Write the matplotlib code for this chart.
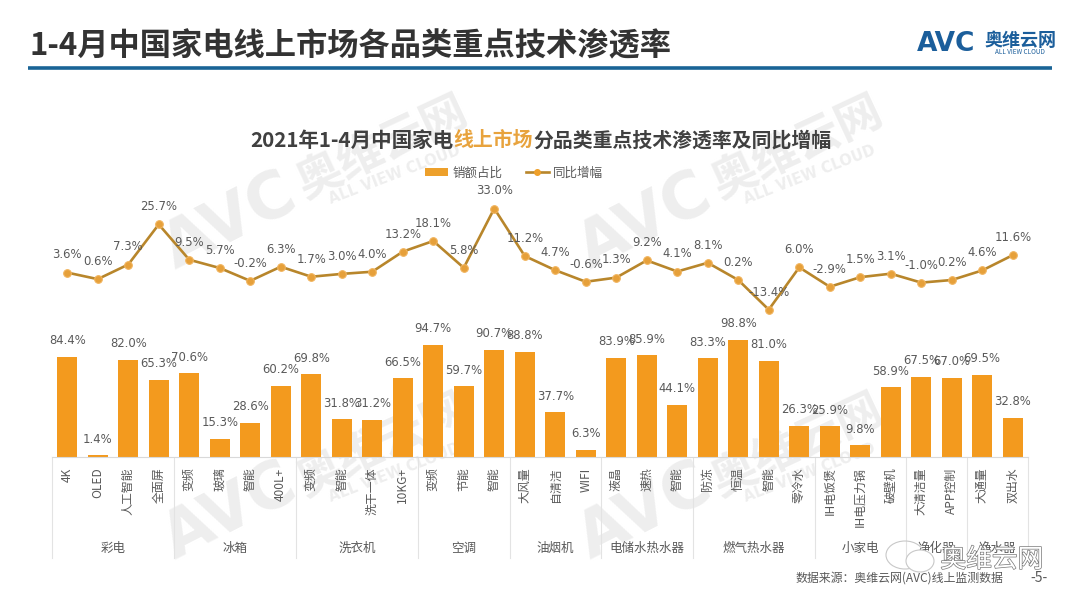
import matplotlib
matplotlib.use("Agg")
import matplotlib.pyplot as plt
import matplotlib.patheffects as pe
from matplotlib.lines import Line2D
from matplotlib.patches import Patch, Ellipse

plt.rcParams['font.family'] = ['Noto Sans CJK SC', 'DejaVu Sans']

groups = ['彩电', '冰箱', '洗衣机', '空调', '油烟机', '电储水热水器', '燃气热水器', '小家电', '净化器', '净水器']
group_sizes = [4, 4, 4, 3, 3, 3, 4, 3, 2, 2]
categories = ['4K', 'OLED', '人工智能', '全面屏', '变频', '玻璃', '智能', '400L+',
              '变频', '智能', '洗干一体', '10KG+', '变频', '节能', '智能',
              '大风量', '自清洁', 'WIFI', '液晶', '速热', '智能',
              '防冻', '恒温', '智能', '零冷水', 'IH电饭煲', 'IH电压力锅', '破壁机',
              '大清洁量', 'APP控制', '大通量', '双出水']
share = [84.4, 1.4, 82.0, 65.3, 70.6, 15.3, 28.6, 60.2, 69.8, 31.8, 31.2, 66.5,
         94.7, 59.7, 90.7, 88.8, 37.7, 6.3, 83.9, 85.9, 44.1, 83.3, 98.8, 81.0,
         26.3, 25.9, 9.8, 58.9, 67.5, 67.0, 69.5, 32.8]
growth = [3.6, 0.6, 7.3, 25.7, 9.5, 5.7, -0.2, 6.3, 1.7, 3.0, 4.0, 13.2, 18.1, 5.8,
          33.0, 11.2, 4.7, -0.6, 1.3, 9.2, 4.1, 8.1, 0.2, -13.4, 6.0, -2.9, 1.5, 3.1,
          -1.0, 0.2, 4.6, 11.6]

W, H = 1080, 608
ORANGE = '#F39A1E'
LINE = '#B8862B'
GREY = '#595959'
BLUE = '#1A6496'
MARK = '#EEEEEE'

fig = plt.figure(figsize=(W / 100, H / 100), dpi=100, facecolor='white')

def fx(p): return p / W
def fy(p): return 1 - p / H

bg = fig.add_axes([0, 0, 1, 1], zorder=0)
bg.set_xlim(0, W); bg.set_ylim(H, 0); bg.axis('off')

# watermarks: two columns, two rows
for dx in (0, 415):
    for (ya, yb, yc) in [(222, 147, 175), (512, 445, 473)]:
        bg.text(230 + dx, ya, 'AVC', fontsize=46, fontweight='bold', color=MARK, rotation=27,
                ha='center', va='center', family='DejaVu Sans')
        bg.text(383 + dx, yb, '奥维云网', fontsize=33, fontweight='bold', color=MARK, rotation=25,
                ha='center', va='center')
        bg.text(395 + dx, yc, 'ALL VIEW CLOUD', fontsize=10.5, fontweight='bold', color=MARK, rotation=21,
                ha='center', va='center', family='DejaVu Sans')

# header
bg.text(30, 46, '1-4月中国家电线上市场各品类重点技术渗透率', fontsize=22.5, fontweight='bold',
        color='#333333', ha='left', va='center')
bg.plot([28, 1052], [67.5, 67.5], color=BLUE, lw=2.6, solid_capstyle='butt')
bg.text(917, 44, 'AVC', fontsize=19, fontweight='bold', color='#1B5E9B', ha='left', va='center',
        family='DejaVu Sans')
bg.text(1020, 40, '奥维云网', fontsize=13, fontweight='bold', color='#1B5E9B', ha='center', va='center')
bg.text(1020, 52, 'ALL VIEW CLOUD', fontsize=4.6, color='#1B5E9B', ha='center', va='center')

# chart title with highlighted segment
y_t = 140
bg.text(250, y_t, '2021年1-4月中国家电', fontsize=14.8, fontweight='bold', color='#404040', ha='left', va='center')
bg.text(453, y_t, '线上市场', fontsize=14.3, fontweight='bold', color='#E8A33D', ha='left', va='center')
bg.text(533, y_t, '分品类重点技术渗透率及同比增幅', fontsize=14.3, fontweight='bold', color='#404040', ha='left', va='center')

# source / footer
bg.text(795, 578, '数据来源：奥维云网(AVC)线上监测数据', fontsize=8.6, color=GREY, ha='left', va='center')
bg.text(1030, 578, '-5-', fontsize=10, color=GREY, ha='left', va='center')

# bars
left, right = 52, 1028
base, top = 457, 457 - 130
ax = fig.add_axes([fx(left), fy(base), fx(right - left), (base - top) / H], zorder=1)
ax.patch.set_alpha(0)
x = list(range(len(categories)))
ax.bar(x, share, width=0.66, color=ORANGE, zorder=2)
ax.set_xlim(-0.5, len(categories) - 0.5)
ax.set_ylim(0, (base - top) / 1.184)
ax.set_yticks([])
for s in ['top', 'left', 'right']:
    ax.spines[s].set_visible(False)
ax.spines['bottom'].set_color('#D9D9D9')
ax.spines['bottom'].set_linewidth(0.8)
ax.set_xticks(x)
ax.set_xticklabels(categories, rotation=90, fontsize=8.6, color=GREY, ha='center', va='top')
ax.tick_params(axis='x', length=0, pad=7.5)
for xi, v in zip(x, share):
    ax.annotate(f'{v:.1f}%', (xi, v), xytext=(0, 7), textcoords='offset points',
                ha='center', va='bottom', fontsize=8.4, color=GREY, zorder=5, family='DejaVu Sans')

# group separators & labels
trans = ax.get_xaxis_transform()
edge = -0.5
bounds = [edge]
for n in group_sizes:
    edge += n
    bounds.append(edge)
for b in bounds:
    ax.plot([b, b], [0, -101 / (base - top)], transform=trans, clip_on=False, color='#E3E3E3', lw=0.8)
for name, a, b in zip(groups, bounds[:-1], bounds[1:]):
    ax.text((a + b) / 2, -91 / (base - top), name, transform=trans, ha='center', va='center',
            fontsize=9, color=GREY)

# line
l_top, l_bot = 180, 330
ax2 = fig.add_axes([fx(left), fy(l_bot), fx(right - left), (l_bot - l_top) / H], zorder=2)
ax2.patch.set_alpha(0)
ax2.plot(x, growth, color=LINE, lw=1.9, marker='o', ms=5.5, mfc='#E6A03A', mec='#F1B45E', mew=0.8, zorder=3)
ax2.set_xlim(-0.5, len(categories) - 0.5)
ax2.set_ylim(33.0 - (l_bot - 208.5) / 2.18, 33.0 + (208.5 - l_top) / 2.18)
ax2.axis('off')
for xi, v in zip(x, growth):
    ax2.annotate(f'{v:.1f}%', (xi, v), xytext=(0, 8), textcoords='offset points',
                 ha='center', va='bottom', fontsize=8.4, color=GREY, zorder=5, family='DejaVu Sans')

# legend
handles = [Patch(facecolor='#EDA02B', edgecolor='none'),
           Line2D([0], [0], color=LINE, lw=1.9, marker='o', ms=4, mfc='#EFA02A', mec='#EFA02A')]
fig.legend(handles, ['销额占比', '同比增幅'], loc='center', bbox_to_anchor=(fx(514), fy(173)),
           ncol=2, frameon=False, fontsize=9, handlelength=1.85, handleheight=0.55,
           columnspacing=1.9, handletextpad=0.35, labelcolor=GREY)

# WeChat-style stamp
ax3 = fig.add_axes([0, 0, 1, 1], zorder=3)
ax3.set_xlim(0, W); ax3.set_ylim(H, 0); ax3.axis('off')
ax3.add_patch(Ellipse((905, 555), 38, 28, fill=False, ec='#C8C8C8', lw=0.8))
ax3.add_patch(Ellipse((920, 561), 28, 22, facecolor='white', ec='#C8C8C8', lw=0.8))
ax3.text(992, 560, '奥维云网', fontsize=18.5, color='white', ha='center', va='center',
         path_effects=[pe.withStroke(linewidth=1.0, foreground='#777777')])

fig.savefig('out.png', dpi=100, facecolor='white')
